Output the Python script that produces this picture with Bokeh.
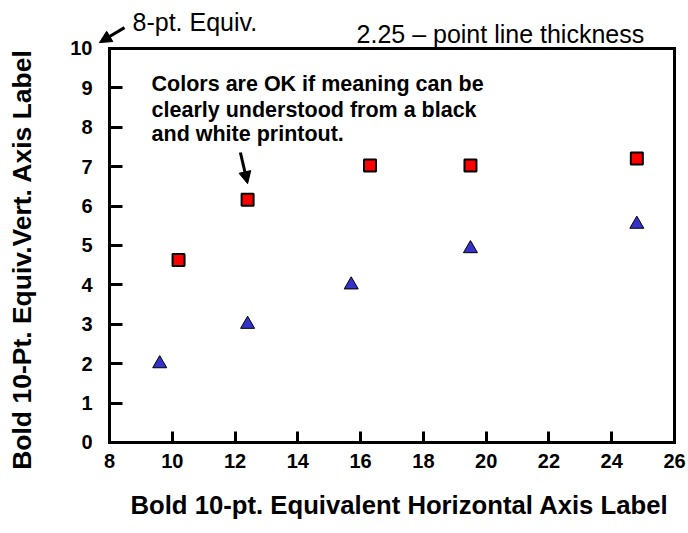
import math
from bokeh.plotting import figure
from bokeh.models import Label, Arrow, NormalHead, FixedTicker, Range1d
from bokeh.embed import file_html
from bokeh.resources import INLINE

# --- data ---
square_x = [10.2, 12.4, 16.3, 19.5, 24.8]
square_y = [4.63, 6.16, 7.03, 7.03, 7.21]
triangle_x = [9.6, 12.4, 15.7, 19.5, 24.8]
triangle_y = [2.0, 3.0, 4.0, 4.92, 5.54]
x_ticks = [8, 10, 12, 14, 16, 18, 20, 22, 24, 26]
y_ticks = [0, 1, 2, 3, 4, 5, 6, 7, 8, 9, 10]

FONT = "Liberation Sans"

# whole canvas is the plotting frame; axes sit at fixed locations inside it
p = figure(width=686, height=531, x_range=Range1d(4.5275, 26.382), y_range=Range1d(-2.259, 11.218),
           output_backend="svg", toolbar_location=None,
           min_border_left=0, min_border_right=0, min_border_top=0, min_border_bottom=0)

p.grid.visible = False
p.outline_line_color = None
p.background_fill_color = "white"
p.border_fill_color = "white"

p.xaxis.ticker = FixedTicker(ticks=x_ticks, minor_ticks=[])
p.yaxis.ticker = FixedTicker(ticks=y_ticks, minor_ticks=[])
p.xaxis.bounds = (x_ticks[0], x_ticks[-1])
p.yaxis.bounds = (y_ticks[0], y_ticks[-1])
p.xaxis.fixed_location = y_ticks[0]
p.yaxis.fixed_location = x_ticks[0]

for ax in (p.xaxis[0], p.yaxis[0]):
    ax.axis_line_width = 3
    ax.axis_line_color = "black"
    ax.axis_line_cap = "square"
    ax.major_tick_out = 0
    ax.major_tick_line_width = 3
    ax.major_tick_line_color = "black"
    ax.minor_tick_line_color = None
    ax.major_label_text_font = FONT
    ax.major_label_text_font_size = "20px"
    ax.major_label_text_font_style = "bold"
    ax.major_label_text_color = "black"

p.xaxis.major_tick_in = 11
p.yaxis.major_tick_in = 13
p.xaxis.major_label_standoff = 12
p.yaxis.major_label_standoff = 17

# top and right border of the plotting box
p.segment(x0=[x_ticks[0]], y0=[y_ticks[-1]], x1=[x_ticks[-1]], y1=[y_ticks[-1]],
          line_width=3, line_color="black", line_cap="square")
p.segment(x0=[x_ticks[-1]], y0=[y_ticks[0]], x1=[x_ticks[-1]], y1=[y_ticks[-1]],
          line_width=3, line_color="black", line_cap="square")

p.scatter(x=square_x, y=square_y, marker="square", size=12,
          fill_color="#FF0000", line_color="black", line_width=2)
p.scatter(x=triangle_x, y=triangle_y, marker="triangle", size=14,
          fill_color="#3333CC", line_color="black", line_width=1)

# axis titles
p.add_layout(Label(x=17.24, y=-1.575, text="Bold 10-pt. Equivalent Horizontal Axis Label",
                   text_font=FONT, text_font_size="25.7px", text_font_style="bold",
                   text_color="black", text_align="center", text_baseline="alphabetic"))
p.add_layout(Label(x=5.21, y=4.645, text="Bold 10-Pt. Equiv.Vert. Axis Label", angle=math.pi / 2,
                   text_font=FONT, text_font_size="26.5px", text_font_style="bold",
                   text_color="black", text_align="center", text_baseline="alphabetic"))

# annotations
p.add_layout(Label(x=8.733, y=10.66, text="8-pt. Equiv.", text_font=FONT,
                   text_font_size="25px", text_color="black", text_baseline="alphabetic"))
p.add_layout(Label(x=15.87, y=10.38, text="2.25 \u2013 point line thickness", text_font=FONT,
                   text_font_size="25px", text_color="black", text_baseline="alphabetic"))
note_lines = ["Colors are OK if meaning can be",
              "clearly understood from a black",
              "and white printout."]
note_y = [9.11, 8.45, 7.84]
for t, yy in zip(note_lines, note_y):
    p.add_layout(Label(x=9.34, y=yy, text=t, text_font=FONT, text_font_size="21.5px",
                       text_font_style="bold", text_color="black", text_baseline="alphabetic"))

p.add_layout(Arrow(end=NormalHead(size=12, fill_color="black", line_color="black"),
                   x_start=8.478, y_start=10.53, x_end=7.68, y_end=10.15,
                   line_width=3, line_color="black"))
p.add_layout(Arrow(end=NormalHead(size=12, fill_color="black", line_color="black"),
                   x_start=12.17, y_start=7.36, x_end=12.40, y_end=6.57,
                   line_width=3, line_color="black"))

open("out.html", "w").write(file_html(p, INLINE))
